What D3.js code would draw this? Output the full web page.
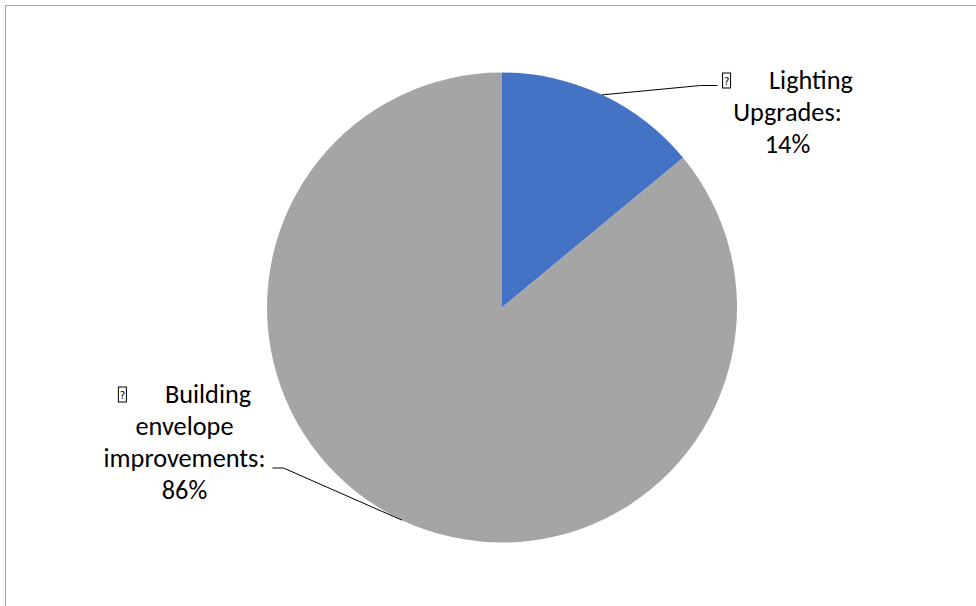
<!DOCTYPE html>
<html>
<head>
<meta charset="utf-8">
<script src="https://cdn.jsdelivr.net/npm/d3@7/dist/d3.min.js"></script>
<style>
  html, body { margin: 0; padding: 0; background: #ffffff; }
  svg { display: block; }
  .lbl { font-family: Carlito, Lato, "Liberation Sans", sans-serif; font-size: 26.3px; fill: #000; }
  .qmark { font-family: "DejaVu Sans", sans-serif; font-size: 10px; fill: #000; }
</style>
</head>
<body>
<svg id="chart" width="976" height="606"></svg>
<script>
// Share of savings by measure (percent)
const categories = ["Lighting Upgrades", "Building envelope improvements"];
const values = [14, 86];
const colors = ["#4472C4", "#A5A5A5"];
// Data-label text, one entry per wrapped line (the value line is added from `values`)
const labelLines = [
  ["Lighting", "Upgrades:"],
  ["Building", "envelope", "improvements:"]
];

const cx = 502, cy = 307.5, radius = 235;
const lineGap = 32;
const boxW = 9, boxH = 15, bulletGap = 38;

const svg = d3.select("#chart");

// chart area frame
svg.append("rect")
  .attr("x", 5.5).attr("y", 5.5)
  .attr("width", 1000).attr("height", 700)
  .attr("fill", "#ffffff")
  .attr("stroke", "#A6A6A6")
  .attr("stroke-width", 1);

const data = categories.map((c, i) => ({ name: c, value: values[i], color: colors[i], lines: labelLines[i] }));

const pie = d3.pie().value(d => d.value).sort(null);
const arcs = pie(data);
const arc = d3.arc().innerRadius(0).outerRadius(radius);

const g = svg.append("g").attr("transform", `translate(${cx},${cy})`);

g.selectAll("path.slice")
  .data(arcs)
  .join("path")
  .attr("class", "slice")
  .attr("d", arc)
  .attr("fill", d => d.data.color);

// label placement: centre x of the text block and first baseline, per slice
const labelPos = [
  { x: 787.5, y: 88.5, side: "right" },
  { x: 184.5, y: 402.5, side: "left" }
];

arcs.forEach((a, i) => {
  const pos = labelPos[i];
  const lines = a.data.lines.concat([d3.format(".0f")(a.data.value) + "%"]);

  // first line: bullet box, a wide gap, then the first word; centred as one unit
  const first = svg.append("text").attr("class", "lbl").attr("y", pos.y).text(lines[0]);
  const wordW = first.node().getComputedTextLength();
  const total = boxW + bulletGap + wordW;
  const x0 = pos.x - total / 2;
  first.attr("x", x0 + boxW + bulletGap);

  svg.append("rect")
    .attr("x", x0 + 0.5).attr("y", pos.y - boxH - 0.5)
    .attr("width", boxW - 1).attr("height", boxH)
    .attr("fill", "none").attr("stroke", "#000").attr("stroke-width", 1);
  svg.append("text")
    .attr("class", "qmark")
    .attr("x", x0 + boxW / 2).attr("y", pos.y - 4)
    .attr("text-anchor", "middle")
    .text("?");

  const rest = svg.append("text").attr("class", "lbl").attr("text-anchor", "middle");
  lines.slice(1).forEach((ln, k) => {
    rest.append("tspan").attr("x", pos.x).attr("y", pos.y + (k + 1) * lineGap).text(ln);
  });

  // leader line: from the arc's outer midpoint to the label's edge
  const mid = (a.startAngle + a.endAngle) / 2;
  const px = cx + radius * Math.sin(mid);
  const py = cy - radius * Math.cos(mid);
  let pts;
  if (pos.side === "right") {
    const yL = pos.y - 3;
    pts = [[px, py], [pos.x - 87, yL], [pos.x - 70, yL]];
  } else {
    const yL = pos.y + 2 * lineGap + 1.5;
    pts = [[px, py], [pos.x + 99, yL], [pos.x + 88, yL]];
  }
  svg.append("path")
    .attr("d", d3.line()(pts))
    .attr("fill", "none")
    .attr("stroke", "#000")
    .attr("stroke-width", 1);
});
</script>
</body>
</html>
